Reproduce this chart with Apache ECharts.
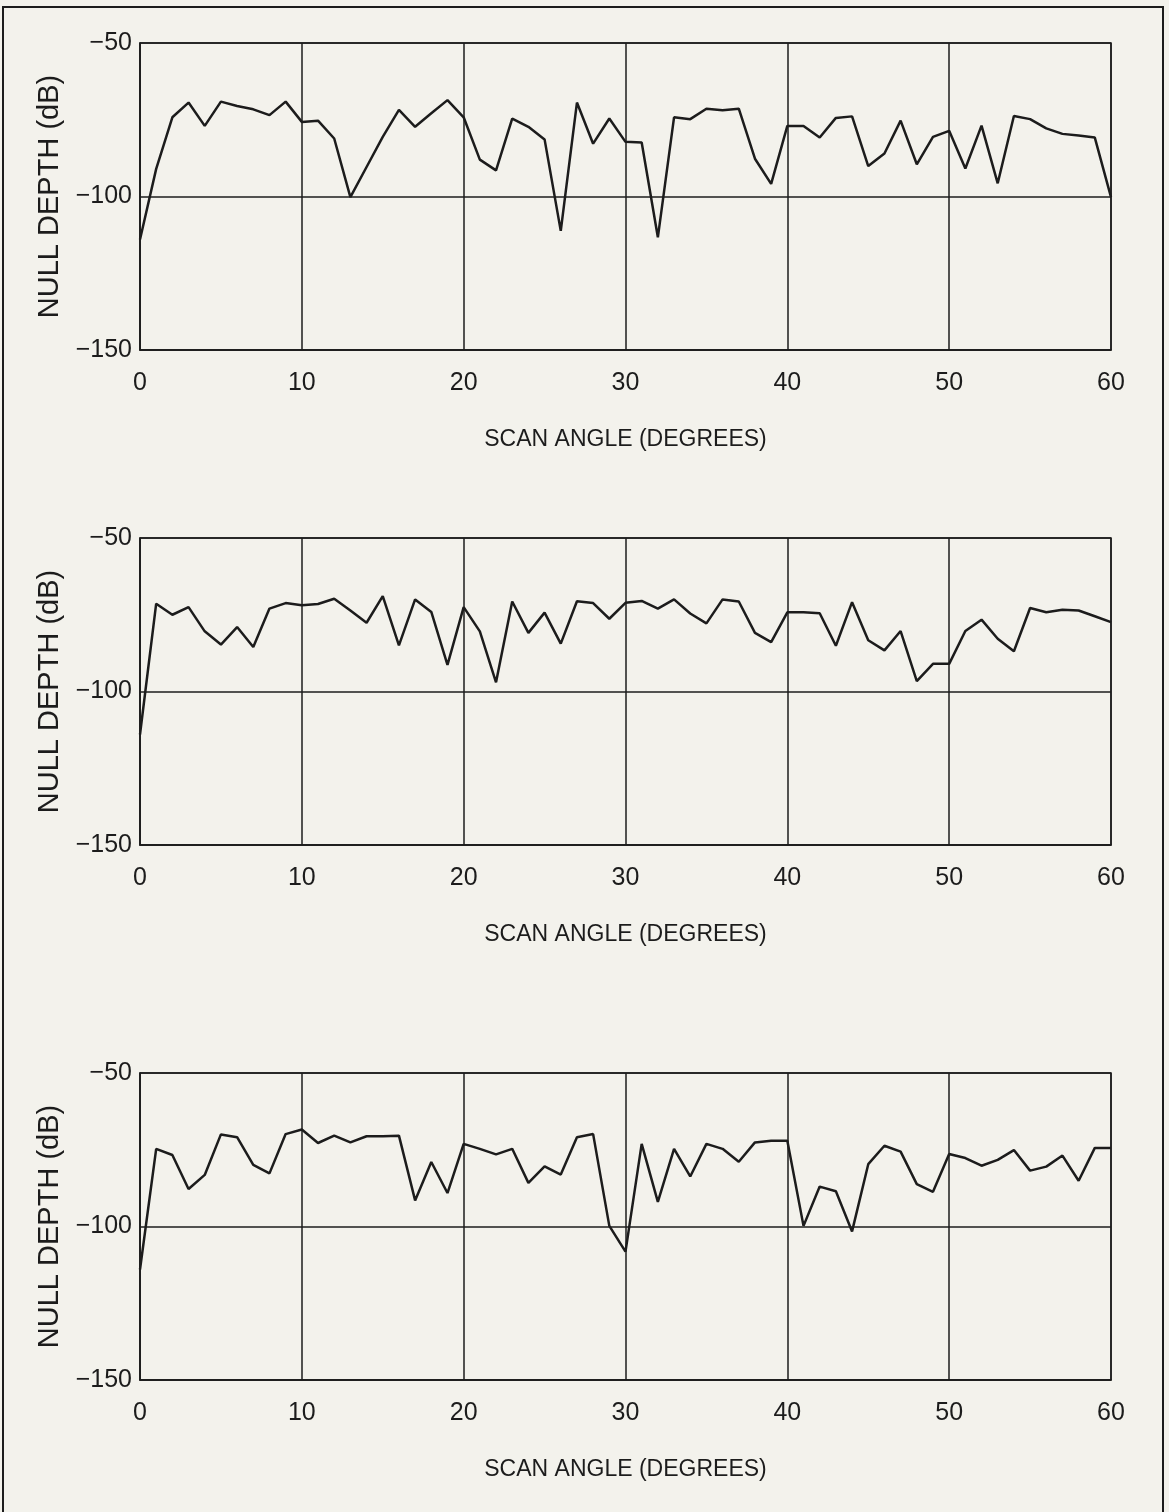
<!DOCTYPE html>
<html>
<head>
<meta charset="utf-8">
<title>Null depth vs scan angle</title>
<script src="https://cdn.jsdelivr.net/npm/echarts@6/dist/echarts.min.js"></script>
<style>
  html, body { margin: 0; padding: 0; background: #f3f2ec; }
  #chart { width: 1169px; height: 1512px; }
</style>
</head>
<body>
<div id="chart"></div>
<script>
  // scan angle (degrees), one sample per degree
  const angles = [0, 1, 2, 3, 4, 5, 6, 7, 8, 9, 10, 11, 12, 13, 14, 15, 16, 17, 18, 19, 20,
    21, 22, 23, 24, 25, 26, 27, 28, 29, 30, 31, 32, 33, 34, 35, 36, 37, 38, 39, 40,
    41, 42, 43, 44, 45, 46, 47, 48, 49, 50, 51, 52, 53, 54, 55, 56, 57, 58, 59, 60]

  // null depth (dB), top panel
  const depthTop = [-114, -91, -74.2, -69.4, -77, -69.1, -70.5, -71.6, -73.5, -69.1, -75.7,
    -75.3, -81.1, -100.2, -90.4, -80.6, -71.8, -77.3, -72.9, -68.6, -74.2,
    -88, -91.5, -74.6, -77.3, -81.4, -111.2, -69.4, -82.8, -74.6, -82.2,
    -82.4, -113.3, -74.2, -74.8, -71.4, -71.9, -71.4, -87.7, -95.9, -77,
    -77, -80.8, -74.4, -73.9, -90.1, -86, -75.3, -89.5, -80.6, -78.6,
    -90.9, -76.9, -95.7, -73.8, -74.8, -77.8, -79.6, -80.1, -80.8, -100.2]

  // null depth (dB), middle panel
  const depthMid = [-114, -71.4, -75, -72.5, -80.4, -84.7, -79, -85.5, -73, -71.2, -71.9,
    -71.5, -69.8, -73.6, -77.6, -68.9, -85, -70, -74.1, -91.3, -72.5,
    -80.4, -97, -70.7, -80.9, -74.3, -84.4, -70.6, -71.2, -76.3, -71.1,
    -70.5, -73, -70, -74.6, -77.8, -70, -70.7, -80.9, -83.9, -74.2,
    -74.2, -74.5, -85.1, -70.9, -83.3, -86.6, -80.3, -96.6, -91, -91,
    -80.3, -76.6, -82.8, -86.9, -72.8, -74.2, -73.4, -73.6, -75.5, -77.4]

  // null depth (dB), bottom panel
  const depthBot = [-114, -74.7, -76.7, -87.8, -83.2, -70, -70.9, -79.9, -82.7, -69.9, -68.4,
    -72.8, -70.4, -72.6, -70.6, -70.6, -70.4, -91.5, -79, -89.1, -73.1,
    -74.7, -76.5, -74.7, -85.8, -80.4, -83.1, -70.9, -69.9, -99.8, -108.2,
    -73.1, -92, -74.7, -83.7, -73.1, -74.7, -78.9, -72.6, -72.1, -72.1,
    -99.8, -87, -88.5, -101.6, -79.7, -73.7, -75.6, -86.2, -88.7, -76.4,
    -77.7, -80.2, -78.3, -75.1, -81.8, -80.5, -76.9, -85.1, -74.4, -74.4]

  const xTicks = [0, 60, 10]       // min, max, step
  const yTicks = [-150, -50, 50]   // min, max, step
  const panelTops = [43, 538, 1073]

  const ink = '#1c1c1c'
  const font = "'Liberation Sans', sans-serif"
  const minus = v => String(v).replace('-', '\u2212')

  let myChart = echarts.init(document.getElementById('chart'), null, {renderer: 'canvas'})

  const grids = panelTops.map(top => ({
    left: 140,
    top: top,
    width: 971,
    height: 307,
    show: true,
    borderColor: ink,
    borderWidth: 1.5,
    backgroundColor: 'transparent'
  }))

  const xAxes = panelTops.map((t, i) => ({
    type: 'value',
    gridIndex: i,
    min: xTicks[0],
    max: xTicks[1],
    interval: xTicks[2],
    name: 'SCAN ANGLE (DEGREES)',
    nameLocation: 'middle',
    nameGap: 78,
    nameTextStyle: {color: ink, fontSize: 23, fontFamily: font},
    axisLine: {show: true, lineStyle: {color: ink, width: 1.5}},
    axisTick: {show: false},
    axisLabel: {color: ink, fontSize: 25, fontFamily: font, margin: 21},
    splitLine: {show: true, lineStyle: {color: ink, width: 1.5}}
  }))

  const yAxes = panelTops.map((t, i) => ({
    type: 'value',
    gridIndex: i,
    min: yTicks[0],
    max: yTicks[1],
    interval: yTicks[2],
    name: 'NULL DEPTH (dB)',
    nameLocation: 'middle',
    nameGap: 74,
    nameTextStyle: {color: ink, fontSize: 29, fontFamily: font},
    axisLine: {show: true, lineStyle: {color: ink, width: 1.5}},
    axisTick: {show: false},
    axisLabel: {color: ink, fontSize: 25, fontFamily: font, margin: 8, formatter: minus},
    splitLine: {show: true, lineStyle: {color: ink, width: 1.5}}
  }))

  const panels = [depthTop, depthMid, depthBot]

  myChart.setOption({
    backgroundColor: '#f3f2ec',
    animation: false,
    graphic: [{
      type: 'rect',
      shape: {x: 3, y: 7, width: 1160, height: 1520},
      style: {fill: 'none', stroke: ink, lineWidth: 2}
    }],
    grid: grids,
    xAxis: xAxes,
    yAxis: yAxes,
    series: panels.map((vals, i) => ({
      type: 'line',
      xAxisIndex: i,
      yAxisIndex: i,
      data: angles.map((a, k) => [a, vals[k]]),
      showSymbol: false,
      lineStyle: {color: ink, width: 2.5},
      z: 5
    }))
  })
</script>
</body>
</html>
